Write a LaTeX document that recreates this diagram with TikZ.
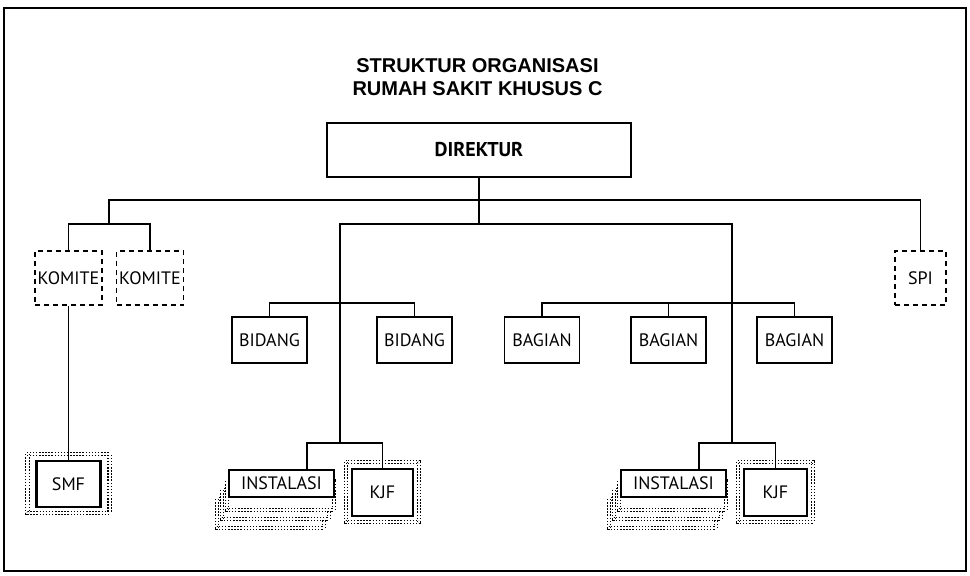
\documentclass[tikz,border=0pt]{standalone}
\usepackage{fontspec}
\setmainfont{PT Sans}
\newfontfamily\headfont{Liberation Sans}
\usetikzlibrary{backgrounds}

\begin{document}
\begin{tikzpicture}[
        x=1pt, y=-1pt,
        box/.style={draw, line width=1.6pt, fill=white, inner sep=0pt,
            font=\fontsize{18}{21}\selectfont},
        unit/.style={box, minimum width=75pt, minimum height=46pt},
        dashbox/.style={box, dash pattern=on 5pt off 4pt, minimum height=54pt},
        thickbox/.style={box, line width=2.2pt},
        dotframe/.style={draw, double, double distance=2.2pt, line width=1.1pt,
            dash pattern=on 1.5pt off 1.6pt},
        link/.style={draw, line width=1.6pt},
        title/.style={font=\headfont\bfseries\fontsize{20}{23}\selectfont, anchor=base},
        ]
        \useasboundingbox (0,0) rectangle (970,576);
        % Frame
        \draw[line width=2.5pt] (4,8) rectangle (966,571);

        % Title
        \node[title] (ttl1) at (477.5,72) {STRUKTUR ORGANISASI};
        \node[title] (ttl2) at (477.5,95) {RUMAH SAKIT KHUSUS C};

        % Boxes
        \node[box, minimum width=304pt, minimum height=54pt,
            font=\bfseries\fontsize{20}{23}\selectfont] (dir) at (479,150) {DIREKTUR};
        \node[dashbox, minimum width=67pt] (kom1) at (68.5,278) {KOMITE};
        \node[dashbox, minimum width=67pt] (kom2) at (150,278) {KOMITE};
        \node[dashbox, minimum width=51pt] (spi) at (920.5,278) {SPI};
        \node[unit] (bid1) at (269.5,340) {BIDANG};
        \node[unit] (bid2) at (414.5,340) {BIDANG};
        \foreach \i/\x in {1/542,2/668.5,3/794.5}
            \node[unit] (bag\i) at (\x,340) {BAGIAN};
        \node[thickbox, minimum width=105pt, minimum height=27pt] (ins1) at (281.5,483.5) {INSTALASI};
        \node[thickbox, minimum width=105pt, minimum height=27pt] (ins2) at (673.5,483.5) {INSTALASI};
        \node[thickbox, minimum width=61pt, minimum height=47pt] (kjf1) at (382.5,492.5) {KJF};
        \node[thickbox, minimum width=63pt, minimum height=47pt] (kjf2) at (775.5,492.5) {KJF};
        \node[thickbox, minimum width=64pt, minimum height=46pt] (smf) at (68.5,484) {SMF};

        % Shadows and frames
        \begin{scope}[on background layer]
            \foreach \n in {ins1,ins2}
                \foreach \dx/\dy in {-11/30,-6/21,-1/12}
                    \draw[dotframe, fill=white] ([shift={(\dx,\dy)}]\n.north west)
                        rectangle ([shift={(\dx,\dy)}]\n.south east);
            \draw[dotframe] ([shift={(-8,-6)}]smf.north west) rectangle ([shift={(8,5)}]smf.south east);
            \foreach \n in {kjf1,kjf2}
                \draw[dotframe] ([shift={(-5,-6)}]\n.north west) rectangle ([shift={(5,5)}]\n.south east);
        \end{scope}

        % Lines
        \draw[link] (dir.south) -- ++(0,46) coordinate (fork);
        \coordinate (kbr) at (109,224);
        \draw[link] (kom1.north) |- (kbr) -| (kom2.north);
        \draw[link] (kbr) -- ++(0,-24) -| (spi.north);
        \coordinate (lbr) at (340,443);
        \coordinate (rbr) at (732,443);
        \draw[link] (fork) -| (lbr);
        \draw[link] (fork) -| (rbr);
        \draw[link] ([xshift=25.5pt]ins1.north) |- (lbr) -| (kjf1.north);
        \draw[link] ([xshift=25.5pt]ins2.north) |- (rbr) -| (kjf2.north);
        \draw[link] (bid1.north) -- ++(0,-13) -| (bid2.north);
        \draw[link] (bag1.north) -- ++(0,-13) -| (bag3.north);
        \draw[link] (bag2.north) -- ++(0,-13);
        \draw[link] (kom1.south) -- (smf.north);

    \end{tikzpicture}
\end{document}
